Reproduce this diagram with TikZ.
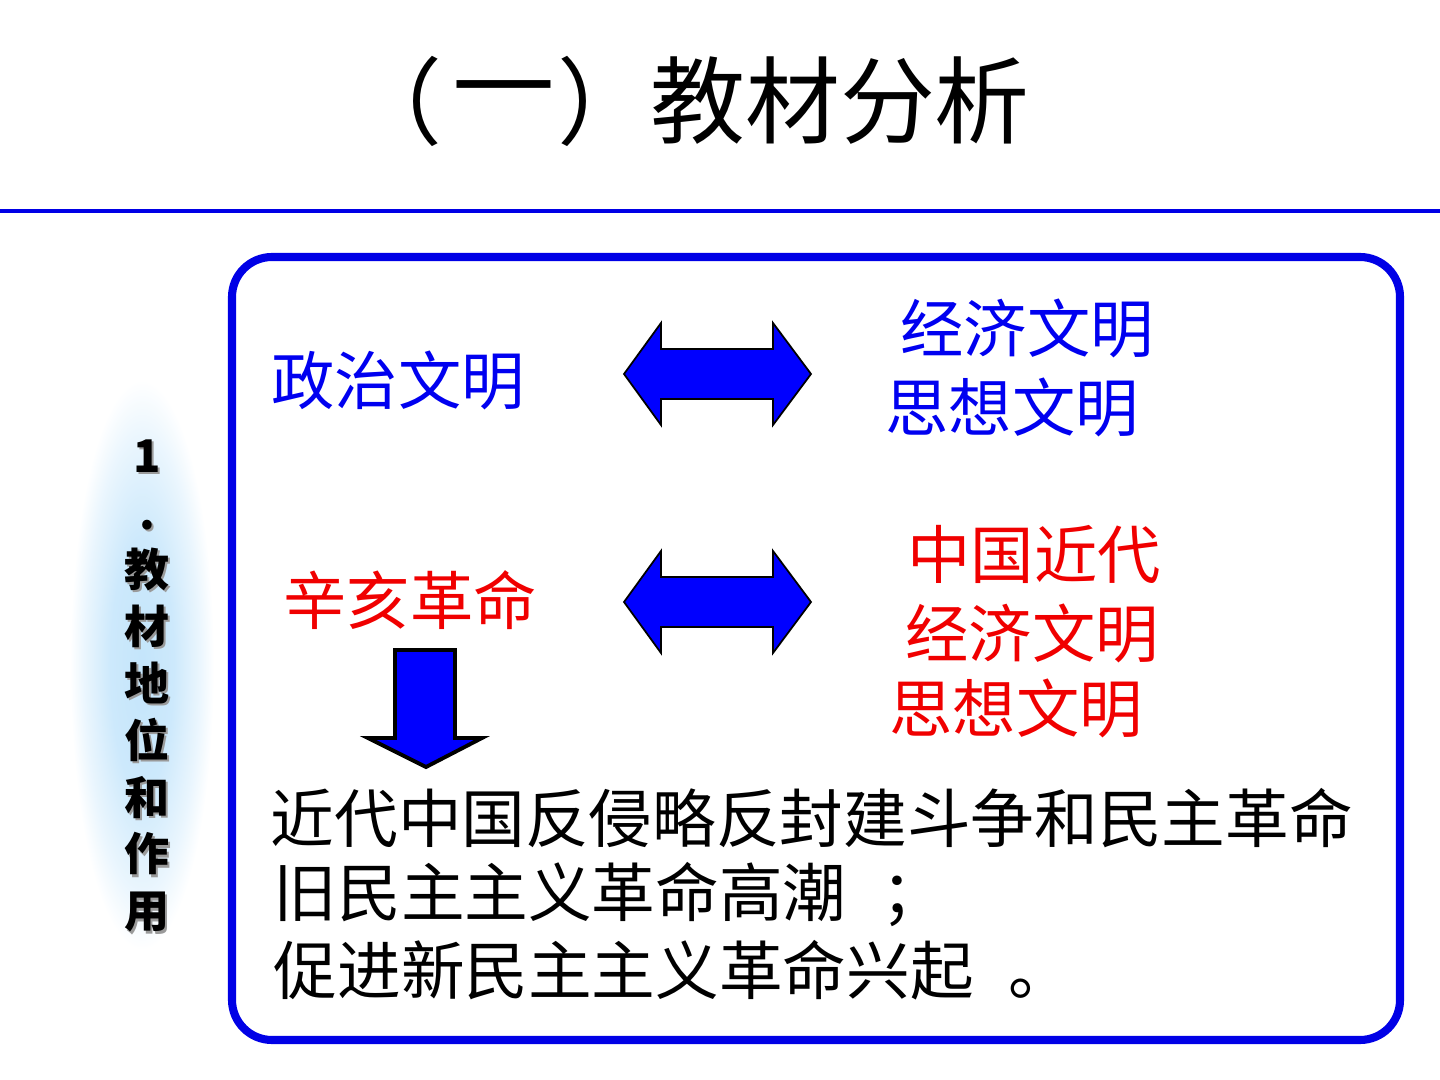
\documentclass[tikz,border=0pt]{standalone}
\usepackage{fontspec}
\setmainfont{Noto Sans CJK SC}
\usepackage{tikz}
\usetikzlibrary{positioning}
\definecolor{FrameBlue}{HTML}{0000E6}
\definecolor{TextBlue}{HTML}{0000F0}
\definecolor{TextRed}{HTML}{F00000}
\definecolor{ArrowBlue}{HTML}{0000FF}
\definecolor{OvalBlue}{HTML}{C4E5FB}
\definecolor{ShadowGray}{HTML}{9A9A9A}
\pgfdeclareradialshading{ovalshade}{\pgfpoint{0bp}{0bp}}{color(0bp)=(OvalBlue); color(11bp)=(OvalBlue!85!white); color(20bp)=(OvalBlue!35!white); color(25bp)=(white); color(50bp)=(white)}
\tikzset{
  titletext/.style={font=\fontsize{27pt}{32pt}\selectfont,text=black,inner sep=0pt},
  bluetext/.style={font=\fontsize{18pt}{22pt}\selectfont,text=TextBlue,inner sep=0pt},
  redtext/.style={font=\fontsize{18pt}{22pt}\selectfont,text=TextRed,inner sep=0pt},
  bodytext/.style={font=\fontsize{18.1pt}{22pt}\selectfont,text=black,inner sep=0pt,anchor=west},
  sidetext/.style={font=\fontsize{12.8pt}{16.2pt}\selectfont\bfseries,align=center,inner sep=0pt},
  mainframe/.style={draw=FrameBlue,line width=2.3pt,rounded corners=4mm},
  blockarrow/.style={fill=ArrowBlue,draw=black,line width=0.5pt},
  downarrow/.style={fill=ArrowBlue,draw=black,line width=1.1pt,line join=miter}
}
\begin{document}
\begin{tikzpicture}[x=0.01cm,y=-0.01cm]
\useasboundingbox (0,0) rectangle (1440,1080);
% title and rule
\node[titletext,anchor=east] (titleopen) at (443,101) {（};
\node[titletext,xscale=1.08] (titleone) at (504,101) {一};
\node[titletext,anchor=west] (titleclose) at (557,101) {）};
\node[titletext] (titlemain) at (840,101) {教材分析};
\draw[FrameBlue,line width=1.1pt] (0,211) -- (1440,211);
% side oval
\shade[shading=ovalshade] (142,665) ellipse (72 and 285);
\node[sidetext,text=ShadowGray] (sideshadow) at (149.5,688.5) {1\\.\\教\\材\\地\\位\\和\\作\\用};
\node[sidetext,text=black] (side) at (147,686) {1\\.\\教\\材\\地\\位\\和\\作\\用};
% frame
\draw[mainframe] (232,257) rectangle (1400,1040);
% upper row
\node[bluetext] (politics) at (398,380) {政治文明};
\node[bluetext] (economyA) at (1027,328) {经济文明};
\node[bluetext] (thoughtA) at (1012,407) {思想文明};
% lower row
\node[redtext] (xinhai) at (410,600) {辛亥革命};
\node[redtext] (modern) at (1034,555) {中国近代};
\node[redtext] (economyB) at (1032,633) {经济文明};
\node[redtext] (thoughtB) at (1016,708) {思想文明};
% double arrows
\foreach \yc in {374,602}{
  \filldraw[blockarrow] (624,\yc) -- ++(37,-51) -- ++(0,26) -- ++(112,0) -- ++(0,-26)
    -- (811,\yc) -- ++(-38,51) -- ++(0,-26) -- ++(-112,0) -- ++(0,26) -- cycle;
}
% down arrow
\filldraw[downarrow] (395,650) -- (455,650) -- (455,738) -- (482,738) -- (426,767)
  -- (368,738) -- (395,738) -- cycle;
% conclusion
\node[bodytext] (lineA) at (270,818) {近代中国反侵略反封建斗争和民主革命};
\node[bodytext] (lineB) at (273,895) {旧民主主义革命高潮\hspace{0.55em}；};
\node[bodytext] (lineC) at (273,970) {促进新民主主义革命兴起\hspace{0.55em}。};
\end{tikzpicture}
\end{document}
